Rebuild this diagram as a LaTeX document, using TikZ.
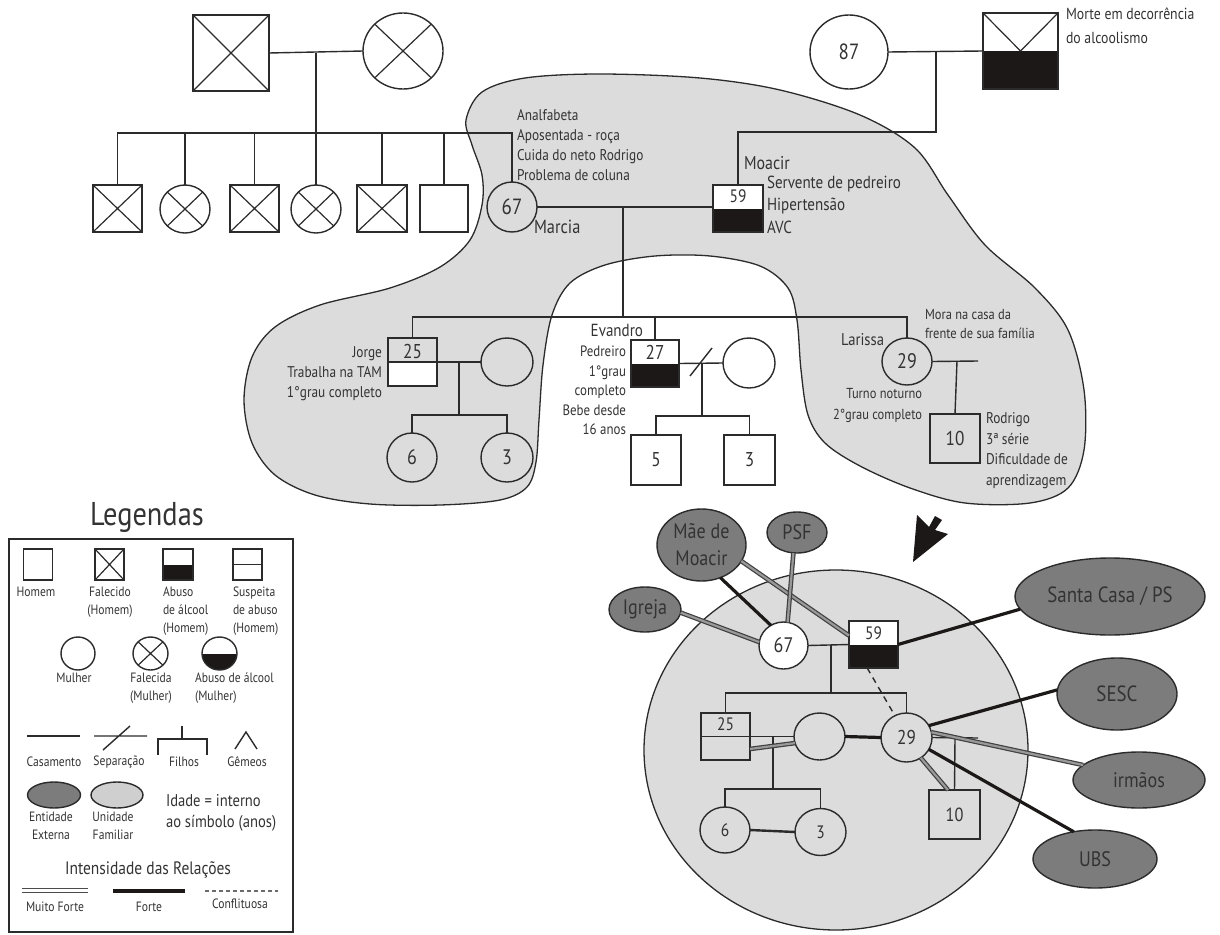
\documentclass[tikz,border=0pt]{standalone}
\usepackage{fontspec}
\setmainfont{PT Sans}[FakeStretch=0.86]
\usetikzlibrary{shapes.geometric,calc}
\definecolor{ink}{HTML}{2B2B2B}
\definecolor{blk}{HTML}{1C1818}
\definecolor{txt}{HTML}{333333}
\definecolor{hullc}{HTML}{DCDCDC}
\definecolor{entity}{HTML}{7C7C7C}
\definecolor{unitc}{HTML}{CFCFCF}
\newcommand\setfs[2]{\fontsize{#1}{#2}\selectfont}
\tikzset{
  ln/.style={draw=ink, line width=1.4},
  sq/.style 2 args={rectangle, draw=ink, line width=1.4, inner sep=0, outer sep=0,
    minimum width=#1, minimum height=#2},
  ov/.style 2 args={ellipse, draw=ink, line width=1.4, inner sep=0, outer sep=0,
    minimum width=#1, minimum height=#2},
  crossed/.style={path picture={\draw[ink, line width=1.2]
    (path picture bounding box.north west)--(path picture bounding box.south east)
    (path picture bounding box.north east)--(path picture bounding box.south west);}},
  abuse/.style={path picture={\fill[blk] (path picture bounding box.west)
    rectangle (path picture bounding box.south east);}},
  halfline/.style={path picture={\draw[ink, line width=1.4]
    (path picture bounding box.west)--(path picture bounding box.east);}},
  lowwhite/.style={path picture={\fill[white] (path picture bounding box.west)
    rectangle (path picture bounding box.south east);
    \draw[ink, line width=1.4] (path picture bounding box.west)--(path picture bounding box.east);}},
  lbl/.style={inner sep=0, outer sep=0, text=txt},
  num/.style={inner sep=0, outer sep=0, text=txt, font=\setfs{#1}{#1}},
  num/.default=20,
  ent/.style 2 args={ov={#1}{#2}, fill=entity, text=txt, font=\setfs{21}{27}, align=center},
  strong/.style={draw=blk, line width=3.2},
  vstrong/.style={draw=ink!90, line width=1.2, double=black!40, double distance=2.2},
  conflict/.style={draw=ink, line width=1.4, dash pattern=on 6pt off 5pt},
  leg/.style={inner sep=0, outer sep=0, text=txt, font=\setfs{13.5}{18}, align=center},
}
\begin{document}
\begin{tikzpicture}[x=1pt,y=-1pt]
\useasboundingbox (0,0) rectangle (1220,934);

% ---------- shaded household outline ----------
\draw[ink, line width=1.3, fill=hullc] plot[smooth cycle, tension=0.55] coordinates {
  (466,120) (482,92) (525,78) (600,74) (700,78) (780,90) (860,115) (915,148)
  (948,195) (985,245) (1035,288) (1068,330) (1084,390) (1084,450) (1068,488)
  (1030,503) (965,503) (910,488) (860,466) (825,443) (808,415) (801,370)
  (797,320) (788,288) (760,266) (710,256) (655,256) (605,265) (570,283)
  (552,315) (543,365) (539,420) (536,462) (527,487) (500,500) (440,505)
  (370,504) (315,495) (275,475) (252,443) (244,400) (252,357) (275,327)
  (320,305) (390,288) (440,267) (470,240) (482,205) (482,175) (472,145)};

% ---------- ecomap disc ----------
\draw[ink, line width=1.3, fill=hullc] (836,750) ellipse [x radius=192, y radius=180];

% ---------- genogram: grandparents (Marcia's side) ----------
\node[sq={76}{76}, crossed] (gf) at (231,53) {};
\node[ov={80}{76}, crossed] (gm) at (403,51) {};
\coordinate (gpm) at (316,53);
\coordinate (gsl) at (316,133);
\draw[ln] (gf.east) -- (gm.west);
\draw[ln] (gpm) -- (gsl);

% Marcia's siblings
\node[sq={49}{47}, crossed] (s1) at (117.5,208.5) {};
\node[ov={50}{48}, crossed] (s2) at (185,209) {};
\node[sq={49}{47}, crossed] (s3) at (254.5,208.5) {};
\node[ov={50}{48}, crossed] (s4) at (316,209) {};
\node[sq={50}{47}, crossed] (s5) at (382,208.5) {};
\node[sq={48}{47}] (s6) at (444,208.5) {};

% Marcia and Moacir
\node[ov={50}{50}, num=22] (marcia) at (512,207) {67};
\node[sq={50}{47}, fill=white, abuse] (moacir) at (738,208.5) {};
\node[num=18] (moacirage) at (738,196) {59};
\draw[ln] (s1.north) |- (gsl) -| (marcia.north);
\foreach \s in {s2,s3,s4,s5,s6} \draw[ln] (\s.north) -- (\s.north |- gsl);
\draw[ln] (marcia.east) -- (marcia.east -| moacir.west);

% Moacir's parents
\node[ov={78}{74}, fill=white, num=22] (g87) at (849,52) {87};
\node[sq={75}{76}, fill=white, abuse] (gff) at (1020.5,51) {};
\draw[ink, line width=1.2] (gff.north west) -- (gff.center) -- (gff.north east);
\coordinate (mpm) at (936,52);
\draw[ln] (g87.east) -- (gff.west);
\draw[ln] (moacir.north) -- ++(0,-53) -| (mpm);

% ---------- genogram: children of Marcia and Moacir ----------
\coordinate (mm) at (623,207);
\coordinate (cs) at (623,317);
\node[sq={49}{48}, lowwhite] (jorge) at (412.5,362) {};
\node[num] (jorgeage) at (412.5,351) {25};
\node[ov={52}{48}] (jw) at (507,362) {};
\node[sq={48}{47}, fill=white, abuse] (evandro) at (655,363.5) {};
\node[num] (evandroage) at (655,352) {27};
\node[ov={52}{50}, fill=white] (evw) at (749,363) {};
\node[ov={50}{47}, num=21] (larissa) at (907,361.5) {29};
\draw[ln] (mm) -- (cs);
\draw[ln] (jorge.north) |- (cs) -| (larissa.north);
\draw[ln] (evandro.north) -- (evandro.north |- cs);

% Jorge's family
\coordinate (jm) at (459,362);
\coordinate (jc) at (459,415);
\node[ov={50}{49}, num=21] (j6) at (412,457.5) {6};
\node[ov={52}{49}, num=21] (j3) at (507,457.5) {3};
\draw[ln] (jorge.east) -- (jw.west);
\draw[ln] (jm) -- (jc);
\draw[ln] (j6.north) |- (jc) -| (j3.north);

% Evandro's family
\coordinate (evm) at (702,364);
\coordinate (evc) at (702,416);
\node[sq={50}{50}, fill=white, num] (e5) at (656,460) {5};
\node[sq={51}{50}, fill=white, num] (e3b) at (749.5,460) {3};
\draw[ln] (evandro.east) -- (evw.west);
\draw[ink, line width=1.4] (690,376) -- (712,348);
\draw[ln] (evm) -- (evc);
\draw[ln] (e5.north) |- (evc) -| (e3b.north);

% Larissa's family
\coordinate (lr) at (978,361);
\coordinate (ld) at (957,361);
\node[sq={50}{49}, num] (rodrigo) at (955,438.5) {10};
\draw[ln] (larissa.east) -- (lr);
\draw[ln] (ld) -- (rodrigo.north);

% ---------- genogram texts ----------
\node[lbl, anchor=north west, align=left, font=\setfs{15.5}{20}] (marcianotes) at (517,109)
  {Analfabeta\\Aposentada - roça\\Cuida do neto Rodrigo\\Problema de coluna};
\node[lbl, anchor=west, font=\setfs{19}{19}] (marcianame) at (534,227) {Marcia};
\node[lbl, anchor=west, font=\setfs{18.5}{18}] (moacirname) at (744,163) {Moacir};
\node[lbl, anchor=north west, align=left, font=\setfs{17.5}{22.5}] (moacirnotes) at (767,176)
  {Servente de pedreiro\\Hipertensão\\AVC};
\node[lbl, anchor=north west, align=left, font=\setfs{16}{24}] (deathnote) at (1066,8)
  {Morte em decorrência\\do alcoolismo};
\node[lbl, anchor=north east, align=right, font=\setfs{15.5}{20}] (jorgenotes) at (382,347)
  {Jorge\\Trabalha na TAM\\1°grau completo};
\node[lbl, anchor=east, font=\setfs{17.5}{17}] (evandroname) at (643,330) {Evandro};
\node[lbl, anchor=north east, align=right, font=\setfs{15}{19.5}] (evandronotes) at (626,346)
  {Pedreiro\\1°grau\\completo\\Bebe desde\\16 anos};
\node[lbl, anchor=east, font=\setfs{17}{16}] (larissaname) at (884,340) {Larissa};
\node[lbl, anchor=north west, align=left, font=\setfs{14.5}{19}] (larissahome) at (925,309)
  {Mora na casa da\\frente de sua família};
\node[lbl, anchor=north east, align=right, font=\setfs{14.5}{21}] (larissanotes) at (922,388)
  {Turno noturno\\2°grau completo};
\node[lbl, anchor=north west, align=left, font=\setfs{15.5}{20.5}] (rodrigonotes) at (986,413)
  {Rodrigo\\3ª série\\Dificuldade de\\aprendizagem};

% ---------- arrow towards the ecomap ----------
\fill[blk] (913,562) -- (917,515) -- (929,527) -- (935,516) -- (942,520) -- (935,530)
  -- (948,534) -- cycle;

% ---------- ecomap ----------
\node[ent={89}{72}] (mae) at (701.5,545) {Mãe de\\Moacir};
\node[ent={60}{41}] (psf) at (797,532.5) {PSF};
\node[ent={72}{45}] (igreja) at (645,609.5) {Igreja};
\node[ent={190}{77}, font=\setfs{22}{22}] (santa) at (1110,596.5) {Santa Casa / PS};
\node[ent={120}{72}, font=\setfs{22}{22}] (sesc) at (1117,694) {SESC};
\node[ent={132}{56}] (irmaos) at (1139,780) {irmãos};
\node[ent={124}{58}] (ubs) at (1095,859) {UBS};

\node[ov={49}{47}, fill=white, num=21] (e67) at (783.5,645.5) {67};
\node[sq={49}{47}, fill=white, abuse] (e59) at (873.5,644.5) {};
\node[num=18] (e59age) at (873.5,633) {59};
\node[sq={49}{47}, halfline] (e25) at (725.5,736.5) {};
\node[num=18] (e25age) at (725.5,724) {25};
\node[ov={51}{47}] (ew) at (819.5,736.5) {};
\node[ov={51}{49}, num=20] (e29) at (906.5,737.5) {29};
\node[ov={50}{46}, num=18] (e6) at (725,830) {6};
\node[ov={51}{47}, num=18] (e3) at (820.5,832) {3};
\node[sq={51}{49}, num=19] (e10) at (954.5,814.5) {10};

% family structure inside the ecomap
\coordinate (em) at (831,645);
\coordinate (ej) at (831,693);
\coordinate (ejm) at (773,737);
\coordinate (ejc) at (773,789);
\coordinate (ek) at (978,738);
\coordinate (ed) at (955,738);
\draw[ln] (e67.east) -- (e59.west);
\draw[ln] (em) -- (ej);
\draw[ln] (e25.north) |- (ej) -| (e29.north);
\draw[ln] (e25.east) -- (ew.west);
\draw[ln] (ejm) -- (ejc);
\draw[ln] (e6.north) |- (ejc) -| (e3.north);
\draw[ln] (e29.east) -- (ek);
\draw[ln] (ed) -- (e10.north);

% relationships
\draw[vstrong] (e25.-27) -- (ew.195);
\draw[draw=ink, line width=2.4] (e6.east) -- (e3.west);
\draw[strong] (ew.east) -- (e29.west);
\draw[conflict] (e59.-105) -- (e29.118);
\draw[vstrong] (e29.-55) -- (e10.105);
\draw[vstrong] (e29.12) -- (irmaos.165);
\draw[strong] (e29.-28) -- (ubs.128);
\draw[strong] (e29.28) -- (sesc.176);
\draw[strong] (e59.east) -- (santa.188);
\draw[strong] (mae.-60) -- (e67.122);
\draw[vstrong] (mae.-22) -- (e59.160);
\draw[vstrong] (psf.-100) -- (e67.80);
\draw[vstrong] (igreja.-5) -- (e67.172);

% ---------- legend ----------
\node[lbl, font=\setfs{33}{33}] (legtitle) at (147,517) {Legendas};
\draw[ink, line width=1.5] (9,539) rectangle (293,932);

\node[sq={29}{31}] (lh) at (38,564.5) {};
\node[sq={29}{31}, crossed] (lf) at (109.5,564.5) {};
\node[sq={30}{31}, abuse] (la) at (178,564.5) {};
\node[sq={29}{31}, halfline] (ls) at (247.5,564.5) {};
\node[leg, anchor=north] (lht) at (36,587) {Homem};
\node[leg, anchor=north] (lft) at (110,587) {Falecido\\(Homem)};
\node[leg, anchor=north west, align=left] (lat) at (163,587) {Abuso\\de álcool\\(Homem)};
\node[leg, anchor=north west, align=left] (lst) at (233,587) {Suspeita\\de abuso\\(Homem)};

\node[ov={34}{33}] (lm) at (78,653.5) {};
\node[ov={35}{33}, crossed] (lfm) at (150.5,653.5) {};
\node[ov={35}{33}, abuse] (lam) at (219.5,653.5) {};
\node[leg, anchor=north] (lmt) at (74,673) {Mulher};
\node[leg, anchor=north] (lfmt) at (151,673) {Falecida\\(Mulher)};
\node[leg, anchor=north west, align=left] (lamt) at (195,673) {Abuso de álcool\\(Mulher)};

\draw[ink, line width=1.4] (27,736) -- (80,736);
\draw[ink, line width=1.4] (94,736) -- (147,736) (103,750) -- (130,726);
\draw[ink, line width=1.4] (158,755) -- (158,739) -- (207,739) -- (207,755) (182,739) -- (182,726);
\draw[ink, line width=1.4] (235,749) -- (246,732) -- (257,749);
\node[leg] (lct) at (54,762) {Casamento};
\node[leg] (lst2) at (119,762) {Separação};
\node[leg] (lfit) at (184,762) {Filhos};
\node[leg] (lgt) at (247,762) {Gêmeos};

\node[ov={53}{26}, fill=entity] (le) at (54,795) {};
\node[ov={52}{26}, fill=unitc] (lu) at (117,795) {};
\node[leg, anchor=north] (let) at (51,812) {Entidade\\Externa};
\node[leg, anchor=north] (lut) at (113,812) {Unidade\\Familiar};
\node[lbl, anchor=north west, align=left, font=\setfs{17}{21}] (lage) at (166,794)
  {Idade = interno\\ao símbolo (anos)};

\node[lbl, font=\setfs{18}{18}] (lrel) at (148,870) {Intensidade das Relações};
\draw[draw=ink!85, line width=1.1, double=white, double distance=3.4] (22,890.5) -- (88,890.5);
\draw[draw=blk, line width=3.6] (113,891) -- (185,891);
\draw[draw=ink!70, line width=1.1, dash pattern=on 4pt off 3pt] (205,891) -- (278,891);
\node[leg, font=\setfs{13.5}{13}] (lmf) at (55,907) {Muito Forte};
\node[leg, font=\setfs{13.5}{13}] (lfo) at (149,907) {Forte};
\node[leg, font=\setfs{13.5}{13}] (lco) at (240,904) {Conflituosa};
\end{tikzpicture}
\end{document}
